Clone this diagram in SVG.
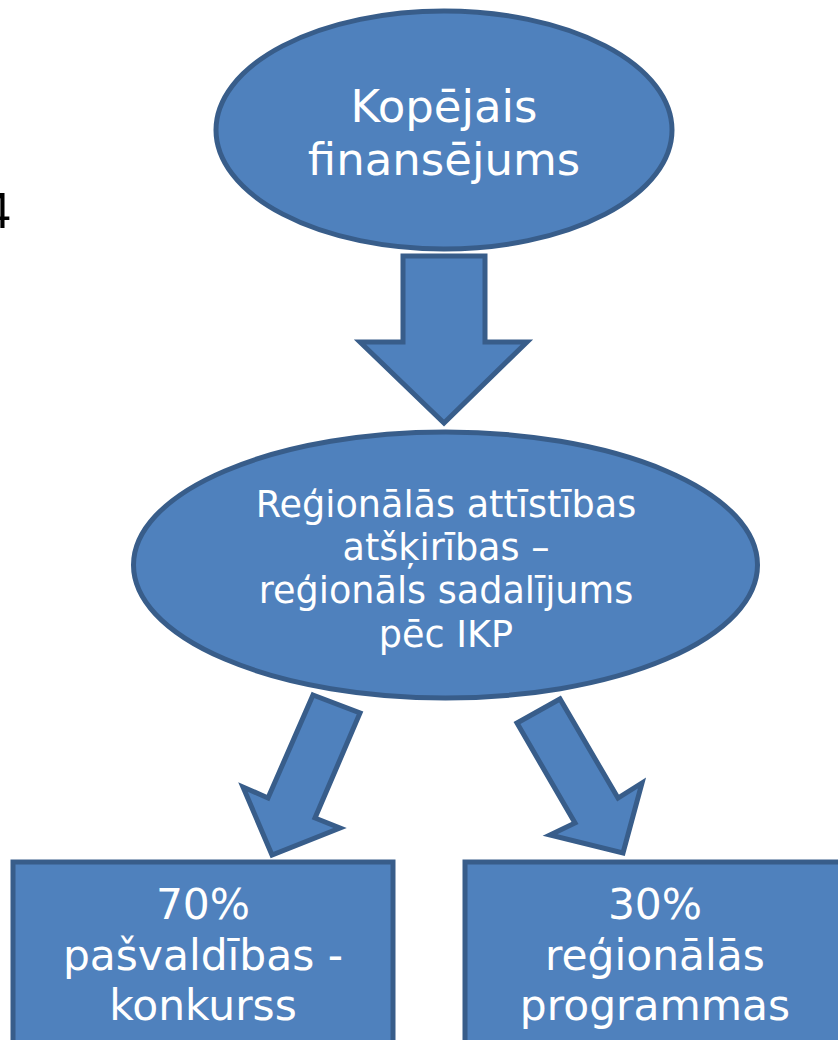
<svg xmlns="http://www.w3.org/2000/svg" width="838" height="1040" viewBox="0 0 838 1040">
<style>
.shape{fill:#4f81bd;stroke:#385d8a;stroke-width:5;stroke-linejoin:miter}
.t{fill:#ffffff;font-family:"DejaVu Sans","Verdana",sans-serif;text-anchor:middle}
</style>
<rect width="838" height="1040" fill="#ffffff"/>
<text x="-17" y="228" font-family="Liberation Sans, Arial, sans-serif" font-size="50" fill="#000000">4</text>
<g id="connectors">
<polygon class="shape" points="403,256 485,256 485,342 527,342 444,423 360,342 403,342"/>
<polygon class="shape" points="313,695 360,713 315,818 340,828 272,855 243,787 268,798"/>
<polygon class="shape" points="517,723 560,699 618,798 642,783 623,853 550,835 575,823"/>
</g>
<g id="node-total">
<ellipse class="shape" cx="444" cy="130" rx="228" ry="119"/>
<text class="t" font-size="45" x="444" y="122">Kopējais</text>
<text class="t" font-size="45" x="444" y="175">finansējums</text>
</g>
<g id="node-regional">
<ellipse class="shape" cx="445.5" cy="565" rx="312" ry="133"/>
<text class="t" font-size="36.6" x="446" y="517">Reģionālās attīstības</text>
<text class="t" font-size="36.6" x="446" y="560">atšķirības –</text>
<text class="t" font-size="36.6" x="446" y="603">reģionāls sadalījums</text>
<text class="t" font-size="36.6" x="446" y="647">pēc IKP</text>
</g>
<g id="node-70">
<rect class="shape" x="13" y="862" width="380" height="200"/>
<text class="t" font-size="42.4" x="203" y="919">70%</text>
<text class="t" font-size="42.4" x="203" y="970">pašvaldības -</text>
<text class="t" font-size="42.4" x="203" y="1020">konkurss</text>
</g>
<g id="node-30">
<rect class="shape" x="465" y="862" width="380" height="200"/>
<text class="t" font-size="42.4" x="655" y="919">30%</text>
<text class="t" font-size="42.4" x="655" y="970">reģionālās</text>
<text class="t" font-size="42.4" x="655" y="1020">programmas</text>
</g>
</svg>
